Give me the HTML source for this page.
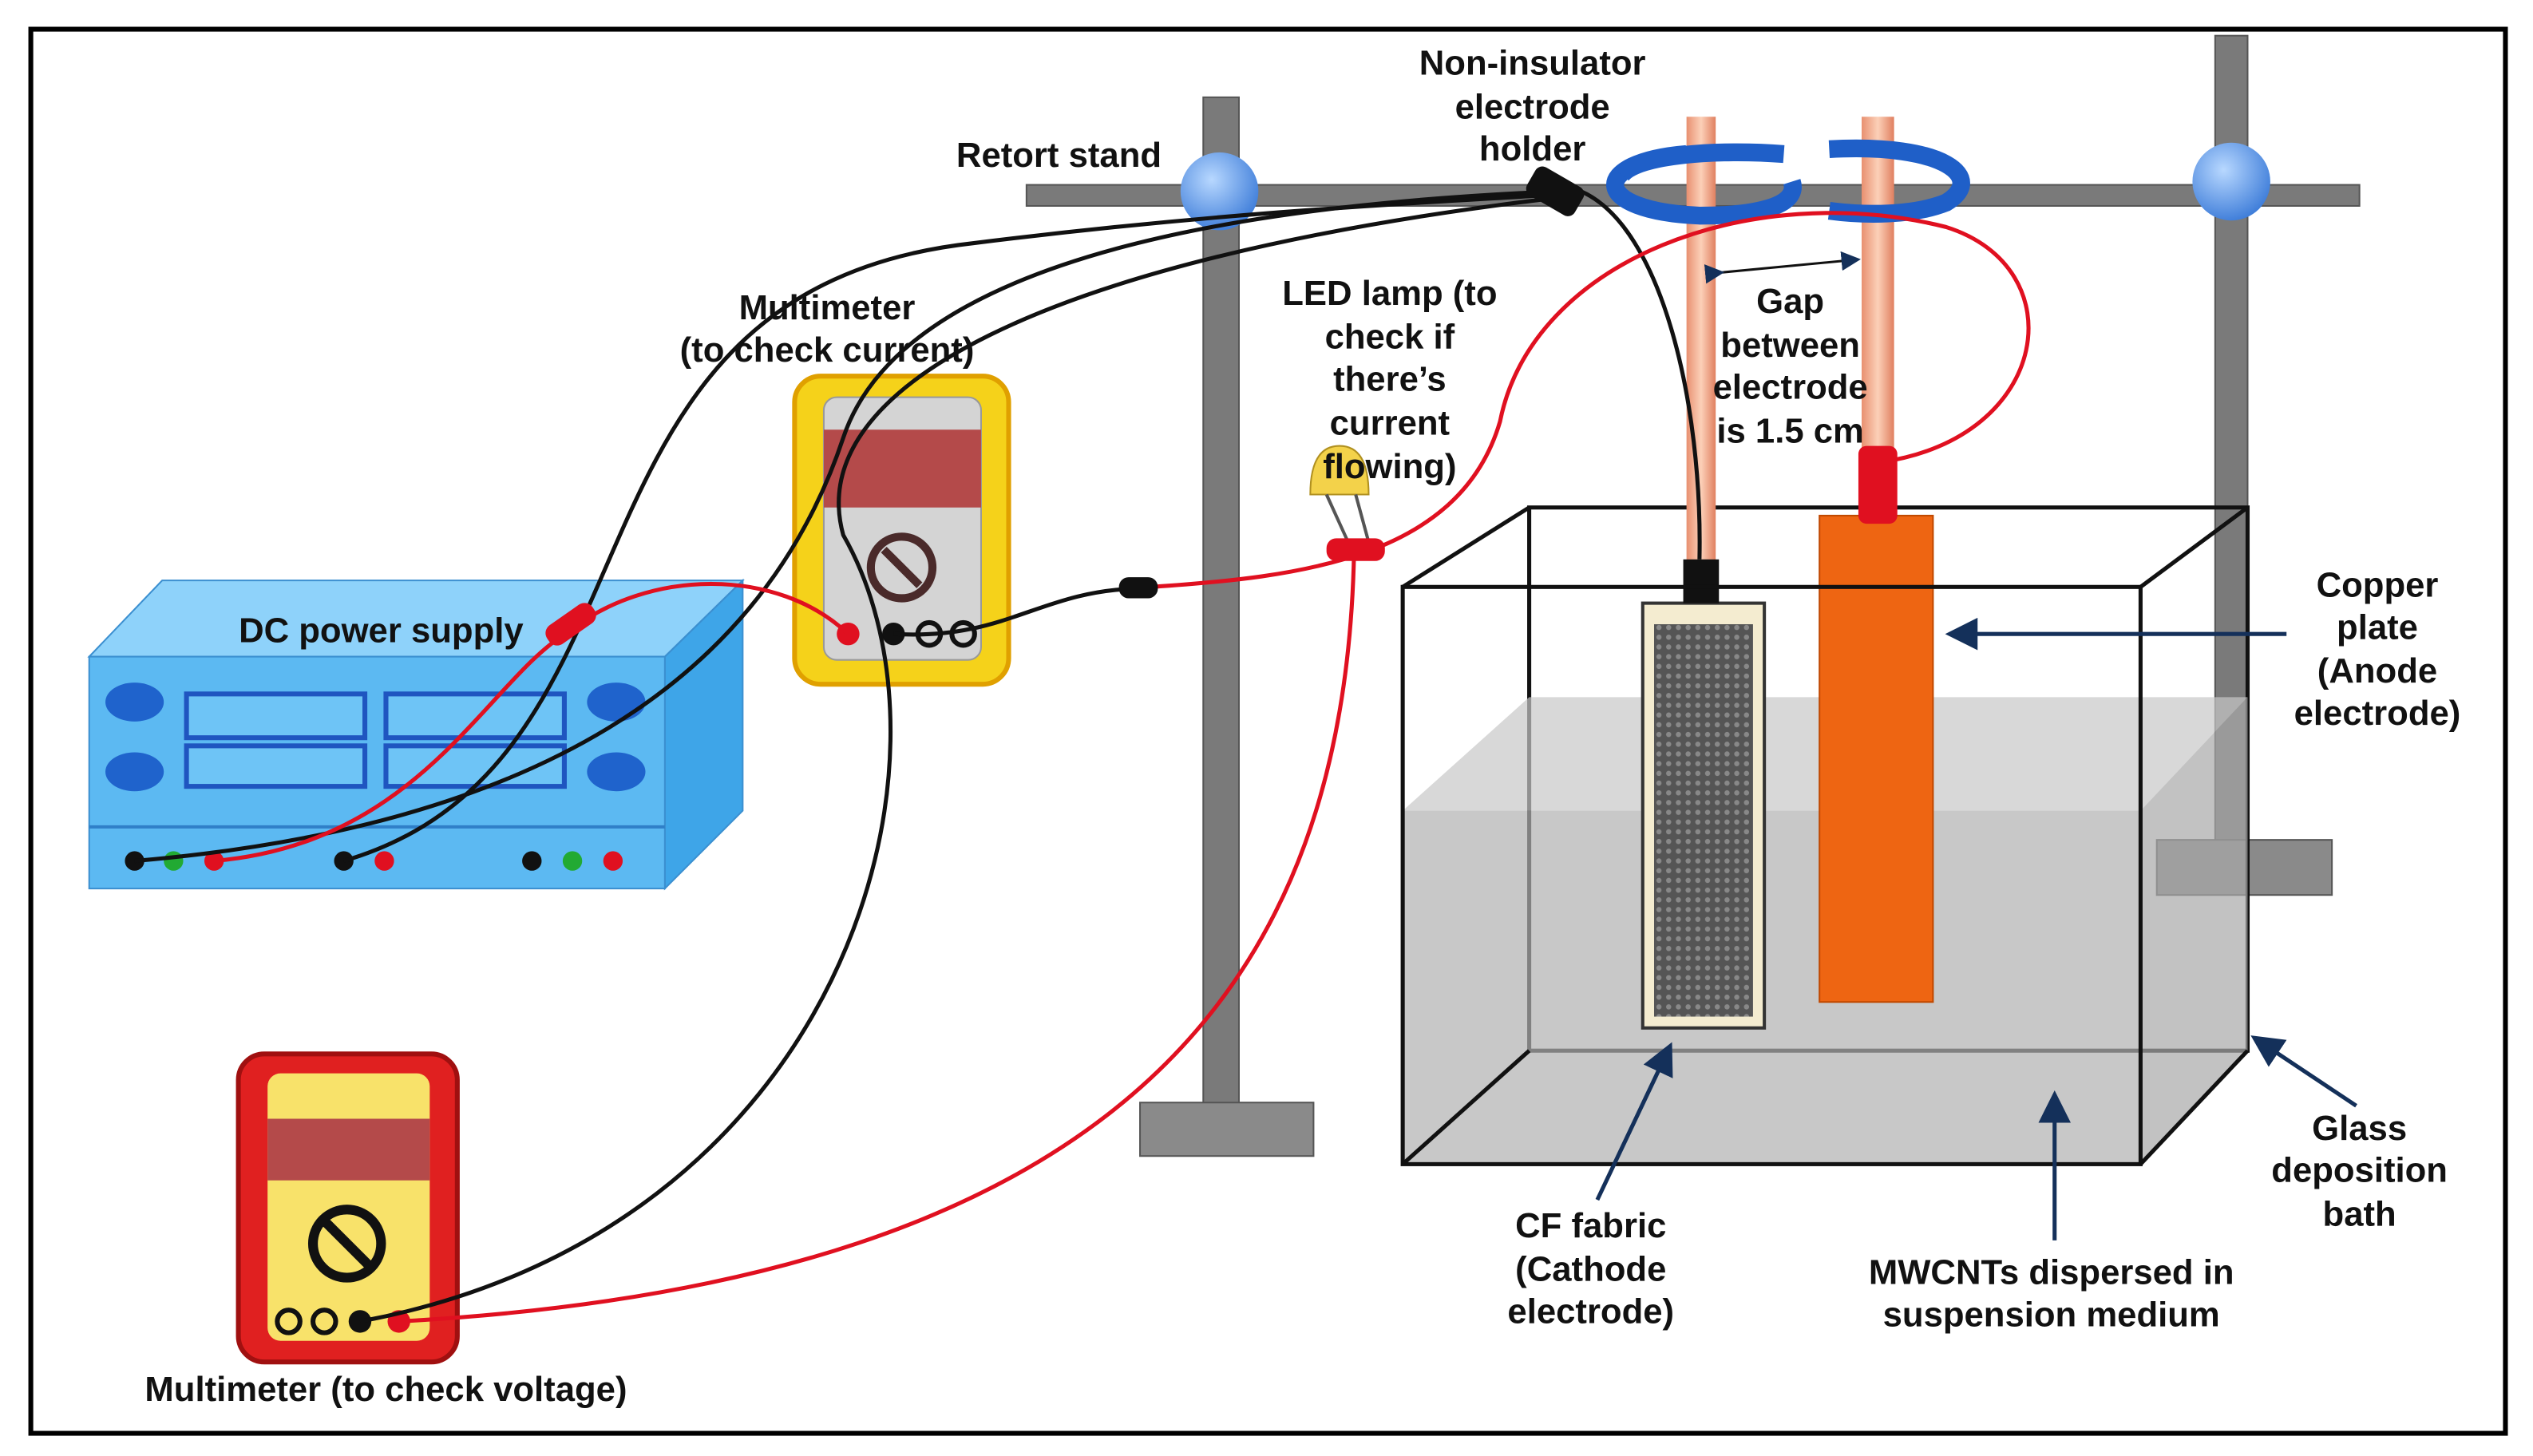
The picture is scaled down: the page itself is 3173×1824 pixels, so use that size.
<!DOCTYPE html>
<html><head><meta charset="utf-8"><style>
html,body{margin:0;padding:0;background:#fff;}
svg{display:block;}
text{font-family:"Liberation Sans",Arial,sans-serif;font-weight:bold;font-size:21.5px;fill:#111;}
</style></head><body>
<svg width="3173" height="1824" viewBox="0 0 1562 898" preserveAspectRatio="none" xmlns="http://www.w3.org/2000/svg">
<defs>
<linearGradient id="cu" x1="0" x2="1"><stop offset="0" stop-color="#e89070"/><stop offset="0.5" stop-color="#fcd0b8"/><stop offset="1" stop-color="#e08060"/></linearGradient>
<radialGradient id="ball" cx="0.4" cy="0.35" r="0.7"><stop offset="0" stop-color="#b8d8ff"/><stop offset="1" stop-color="#3a7ad8"/></radialGradient>
<pattern id="cf" width="6" height="6" patternUnits="userSpaceOnUse"><rect width="6" height="6" fill="#555"/><circle cx="3" cy="3" r="1.6" fill="#888"/></pattern>
<marker id="ah" markerWidth="8" markerHeight="8" refX="7" refY="4" orient="auto"><path d="M0,0 L8,4 L0,8 z" fill="#14305a"/></marker>
</defs>
<rect x="0" y="0" width="1562" height="898" fill="#fff"/>
<rect x="19" y="18" width="1526" height="866" fill="none" stroke="#000" stroke-width="3"/>

<!-- Retort stand -->
<rect x="742" y="60" width="22" height="625" fill="#7a7a7a" stroke="#555"/>
<rect x="703" y="680" width="107" height="33" fill="#8a8a8a" stroke="#555"/>
<rect x="633" y="114" width="822" height="13" fill="#7a7a7a" stroke="#555"/>
<rect x="1366" y="22" width="20" height="520" fill="#7a7a7a" stroke="#555"/>
<rect x="1330" y="518" width="108" height="34" fill="#8a8a8a" stroke="#555"/>
<circle cx="752" cy="118" r="24" fill="url(#ball)"/>
<circle cx="1376" cy="112" r="24" fill="url(#ball)"/>

<!-- Tank back -->
<rect x="943" y="313" width="443" height="335" fill="none" stroke="#111" stroke-width="2.5"/>
<!-- liquid -->
<polygon points="865,500 943,430 1386,430 1320,500" fill="#c8c8c8" opacity="0.7"/>
<polygon points="1320,500 1386,430 1386,648 1320,718" fill="#a8a8a8" opacity="0.7"/>
<rect x="865" y="500" width="455" height="218" fill="#b0b0b0" opacity="0.7"/>

<!-- rods -->
<rect x="1040" y="72" width="18" height="275" fill="url(#cu)"/>
<rect x="1148" y="72" width="20" height="215" fill="url(#cu)"/>
<!-- rings -->
<path d="M1040,95 C980,100 980,130 1048,133 C1080,133 1110,128 1105,112" fill="none" stroke="#1f5fc8" stroke-width="11"/>
<path d="M1100,95 C1060,92 1010,95 1000,108" fill="none" stroke="#1f5fc8" stroke-width="11"/>
<path d="M1128,92 C1200,88 1225,110 1200,125 C1180,133 1150,133 1128,130" fill="none" stroke="#1f5fc8" stroke-width="11"/>

<!-- CF fabric -->
<rect x="1013" y="372" width="75" height="262" fill="#f4ecd0" stroke="#333" stroke-width="2"/>
<rect x="1020" y="385" width="61" height="242" fill="url(#cf)"/>
<rect x="1038" y="345" width="22" height="27" fill="#111"/>
<!-- Copper plate -->
<rect x="1122" y="318" width="70" height="300" fill="#ee6512" stroke="#c04800"/>
<rect x="1146" y="275" width="24" height="48" rx="5" fill="#e01020"/>

<!-- Tank front -->
<rect x="865" y="362" width="455" height="356" fill="none" stroke="#111" stroke-width="2.5"/>
<line x1="865" y1="362" x2="943" y2="313" stroke="#111" stroke-width="2.5"/>
<line x1="1320" y1="362" x2="1386" y2="313" stroke="#111" stroke-width="2.5"/>
<line x1="1320" y1="718" x2="1386" y2="648" stroke="#111" stroke-width="2.5"/>
<line x1="865" y1="718" x2="943" y2="648" stroke="#111" stroke-width="2.5"/>

<!-- DC power supply -->
<polygon points="55,405 410,405 458,358 100,358" fill="#8ed2fa" stroke="#3b8fd0"/>
<polygon points="410,405 458,358 458,500 410,548" fill="#3ea5e8" stroke="#3b8fd0"/>
<rect x="55" y="405" width="355" height="143" fill="#5cb9f2" stroke="#3b8fd0"/>
<line x1="55" y1="510" x2="410" y2="510" stroke="#2f7fc8" stroke-width="2"/>
<g fill="#1f63cc">
<ellipse cx="83" cy="433" rx="18" ry="12"/><ellipse cx="83" cy="476" rx="18" ry="12"/>
<ellipse cx="380" cy="433" rx="18" ry="12"/><ellipse cx="380" cy="476" rx="18" ry="12"/>
</g>
<g fill="#6ec4f6" stroke="#1f55c0" stroke-width="3">
<rect x="115" y="428" width="110" height="27"/><rect x="115" y="460" width="110" height="25"/>
<rect x="238" y="428" width="110" height="27"/><rect x="238" y="460" width="110" height="25"/>
</g>
<text x="235" y="396" text-anchor="middle">DC power supply</text>
<g>
<circle cx="83" cy="531" r="6" fill="#111"/><circle cx="107" cy="531" r="6" fill="#22aa33"/><circle cx="132" cy="531" r="6" fill="#e01020"/>
<circle cx="212" cy="531" r="6" fill="#111"/><circle cx="237" cy="531" r="6" fill="#e01020"/>
<circle cx="328" cy="531" r="6" fill="#111"/><circle cx="353" cy="531" r="6" fill="#22aa33"/><circle cx="378" cy="531" r="6" fill="#e01020"/>
</g>

<!-- Multimeter current -->
<rect x="490" y="232" width="132" height="190" rx="16" fill="#f5d21a" stroke="#e0a000" stroke-width="3"/>
<rect x="508" y="245" width="97" height="162" rx="8" fill="#d4d4d4" stroke="#999"/>
<rect x="508" y="265" width="97" height="48" fill="#b44a4a"/>
<circle cx="556" cy="350" r="19" fill="none" stroke="#4a2a2a" stroke-width="5"/>
<line x1="545" y1="339" x2="567" y2="361" stroke="#4a2a2a" stroke-width="5"/>
<circle cx="523" cy="391" r="7" fill="#e01020"/><circle cx="551" cy="391" r="7" fill="#111"/>
<circle cx="573" cy="391" r="7" fill="none" stroke="#111" stroke-width="3"/><circle cx="594" cy="391" r="7" fill="none" stroke="#111" stroke-width="3"/>

<!-- Multimeter voltage -->
<rect x="147" y="650" width="135" height="190" rx="16" fill="#e02020" stroke="#a01010" stroke-width="3"/>
<rect x="165" y="662" width="100" height="165" rx="8" fill="#f8e26a"/>
<rect x="165" y="690" width="100" height="38" fill="#b44a4a"/>
<circle cx="214" cy="767" r="21" fill="none" stroke="#111" stroke-width="6"/>
<line x1="200" y1="753" x2="228" y2="781" stroke="#111" stroke-width="6"/>
<circle cx="178" cy="815" r="7" fill="none" stroke="#111" stroke-width="3"/><circle cx="200" cy="815" r="7" fill="none" stroke="#111" stroke-width="3"/>
<circle cx="222" cy="815" r="7" fill="#111"/><circle cx="246" cy="815" r="7" fill="#e01020"/>

<!-- LED -->
<path d="M808,305 Q808,275 826,275 Q844,275 844,305 z" fill="#f3d24a" stroke="#b09020"/>
<line x1="818" y1="305" x2="833" y2="338" stroke="#555" stroke-width="2"/>
<line x1="836" y1="305" x2="845" y2="338" stroke="#555" stroke-width="2"/>

<!-- wires black -->
<g fill="none" stroke="#111" stroke-width="2.5">
<path d="M83,531 C330,510 470,420 520,270 C560,150 800,125 960,118"/>
<path d="M212,531 C420,470 330,180 600,150 C760,130 880,125 960,120"/>
<path d="M222,815 C520,760 600,470 520,330 C495,240 640,160 960,122"/>
<path d="M975,118 C1025,140 1050,250 1048,345"/>
<path d="M551,391 C620,395 640,365 700,363"/>
</g>
<!-- wires red -->
<g fill="none" stroke="#e01020" stroke-width="2.5">
<path d="M132,531 C260,520 300,420 350,390 C400,350 480,350 523,391"/>
<path d="M710,362 C800,356 900,345 925,260 C945,160 1080,110 1200,140 C1280,165 1265,270 1160,285"/>
<path d="M835,340 C830,600 700,790 246,815"/>
</g>
<rect x="690" y="356" width="24" height="13" rx="6" fill="#111"/>
<rect x="818" y="332" width="36" height="14" rx="6" fill="#e01020"/>
<rect x="335" y="378" width="34" height="14" rx="6" fill="#e01020" transform="rotate(-35 352 385)"/>
<rect x="942" y="108" width="34" height="20" rx="5" fill="#111" transform="rotate(30 959 118)"/>

<!-- gap arrow -->
<line x1="1062" y1="168" x2="1146" y2="160" stroke="#111" stroke-width="1.5" marker-end="url(#ah)" marker-start="url(#ah)"/>

<!-- navy arrows -->
<g stroke="#14305a" stroke-width="2.5" fill="none">
<line x1="1410" y1="391" x2="1202" y2="391" marker-end="url(#ah)"/>
<line x1="985" y1="740" x2="1030" y2="645" marker-end="url(#ah)"/>
<line x1="1267" y1="765" x2="1267" y2="675" marker-end="url(#ah)"/>
<line x1="1453" y1="682" x2="1390" y2="640" marker-end="url(#ah)"/>
</g>

<!-- labels -->
<text x="653" y="103" text-anchor="middle">Retort stand</text>
<text x="945" y="46" text-anchor="middle">Non-insulator</text>
<text x="945" y="73" text-anchor="middle">electrode</text>
<text x="945" y="99" text-anchor="middle">holder</text>
<text x="510" y="197" text-anchor="middle">Multimeter</text>
<text x="510" y="223" text-anchor="middle">(to check current)</text>
<text x="857" y="188" text-anchor="middle">LED lamp (to</text>
<text x="857" y="215" text-anchor="middle">check if</text>
<text x="857" y="241" text-anchor="middle">there’s</text>
<text x="857" y="268" text-anchor="middle">current</text>
<text x="857" y="295" text-anchor="middle">flowing)</text>
<text x="1104" y="193" text-anchor="middle">Gap</text>
<text x="1104" y="220" text-anchor="middle">between</text>
<text x="1104" y="246" text-anchor="middle">electrode</text>
<text x="1104" y="273" text-anchor="middle">is 1.5 cm</text>
<text x="1466" y="368" text-anchor="middle">Copper</text>
<text x="1466" y="394" text-anchor="middle">plate</text>
<text x="1466" y="421" text-anchor="middle">(Anode</text>
<text x="1466" y="447" text-anchor="middle">electrode)</text>
<text x="1455" y="703" text-anchor="middle">Glass</text>
<text x="1455" y="729" text-anchor="middle">deposition</text>
<text x="1455" y="756" text-anchor="middle">bath</text>
<text x="981" y="763" text-anchor="middle">CF fabric</text>
<text x="981" y="790" text-anchor="middle">(Cathode</text>
<text x="981" y="816" text-anchor="middle">electrode)</text>
<text x="1265" y="792" text-anchor="middle">MWCNTs dispersed in</text>
<text x="1265" y="818" text-anchor="middle">suspension medium</text>
<text x="238" y="864" text-anchor="middle">Multimeter (to check voltage)</text>
</svg>
</body></html>
